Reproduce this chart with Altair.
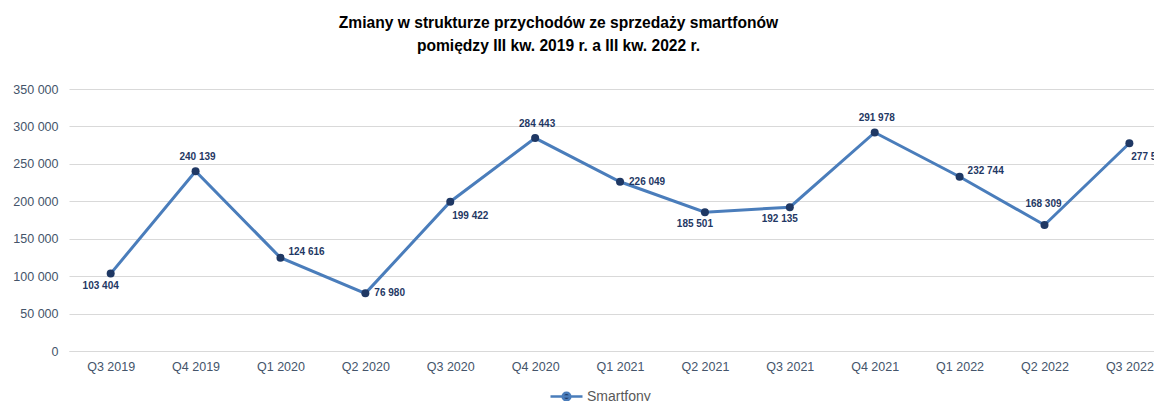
import altair as alt
import pandas as pd

quarters = ["Q3 2019", "Q4 2019", "Q1 2020", "Q2 2020", "Q3 2020", "Q4 2020", "Q1 2021",
            "Q2 2021", "Q3 2021", "Q4 2021", "Q1 2022", "Q2 2022", "Q3 2022"]
values = [103404, 240139, 124616, 76980, 199422, 284443, 226049,
          185501, 192135, 291978, 232744, 168309, 277571]
label_pos = ["below-left", "above", "right-up", "right", "below-right", "above", "right",
             "below-left", "below-left", "above", "right-up", "top", "below-right"]
series_name = "Smartfony"
y_ticks = [0, 50000, 100000, 150000, 200000, 250000, 300000, 350000]

df = pd.DataFrame({
    "quarter": quarters,
    "value": values,
    "idx": list(range(len(quarters))),
    "pos": label_pos,
    "series": series_name,
})

FONT = "Liberation Sans"
AXIS_COL = "#44546a"
LINE_COL = "#4a7dbb"
DOT_COL = "#1f3864"
GRID_COL = "#d9d9d9"

label_array = "[" + ",".join("'" + q + "'" for q in quarters) + "]"

x_enc = alt.X(
    "idx:Q",
    scale=alt.Scale(domain=[-0.491, 12.29], nice=False, zero=False),
    axis=alt.Axis(
        values=list(range(len(quarters))),
        labelExpr=label_array + "[datum.value]",
        grid=False, ticks=False, domainColor=GRID_COL, domainWidth=1,
        title=None, labelPadding=9, labelFontSize=12.5, labelFont=FONT,
        labelColor=AXIS_COL, labelFlush=False,
    ),
)
y_enc = alt.Y(
    "value:Q",
    scale=alt.Scale(domain=[0, 350000], nice=False),
    axis=alt.Axis(
        values=y_ticks, format=",d", grid=True, gridColor=GRID_COL, gridWidth=1,
        domain=False, ticks=False, title=None, labelPadding=11,
        labelFontSize=12.5, labelFont=FONT, labelColor=AXIS_COL,
    ),
)

base = alt.Chart(df).encode(x=x_enc, y=y_enc)

legend_path = "M-1,0H1M0.24,0A0.24,0.24,0,1,1,-0.24,0A0.24,0.24,0,1,1,0.24,0Z"

line = base.mark_line(strokeWidth=3).encode(
    color=alt.Color(
        "series:N",
        scale=alt.Scale(range=[LINE_COL]),
        legend=alt.Legend(
            title=None, orient="none", legendX=480, legendY=290, padding=0,
            symbolType=legend_path, symbolSize=1024, labelFontSize=14,
            labelFont=FONT, labelColor="#595959", labelOffset=3,
            symbolStrokeWidth=2.5,
            symbolFillColor=DOT_COL,
        ),
    )
)

points = base.mark_circle(size=64, color=DOT_COL, opacity=1)

groups = {
    "above": ("center", 2, -14),
    "top": ("center", -1, -21),
    "right-up": ("left", 8, -6),
    "right": ("left", 9, 0),
    "below-right": ("center", 20, 14),
    "below-left": ("center", -10, 12),
}

texts = []
for name, (align, dx, dy) in groups.items():
    texts.append(
        base.transform_filter(alt.datum.pos == name)
        .mark_text(align=align, baseline="middle", dx=dx, dy=dy, fontSize=10,
                   fontWeight="bold", font=FONT, color=DOT_COL)
        .encode(text=alt.Text("value:Q", format=",d"))
    )

chart = alt.layer(line, points, *texts).properties(
    width=1085,
    height=262,
    autosize=alt.AutoSizeParams(type="none"),
    padding={"left": 61, "top": 81, "right": 0, "bottom": 50},
    title=alt.Title(
        ["Zmiany w strukturze przychodów ze sprzedaży smartfonów",
         "pomiędzy III kw. 2019 r. a III kw. 2022 r."],
        fontSize=15.6, font=FONT, fontWeight="bold", color="#000000",
        anchor="middle", dx=-53, offset=28, lineHeight=23,
    ),
).configure_view(stroke=None)

chart.save("out.html", embed_options={
    "renderer": "svg", "actions": False,
    "formatLocale": {"decimal": ",", "thousands": " ", "grouping": [3],
                     "currency": ["", " zł"]},
})
